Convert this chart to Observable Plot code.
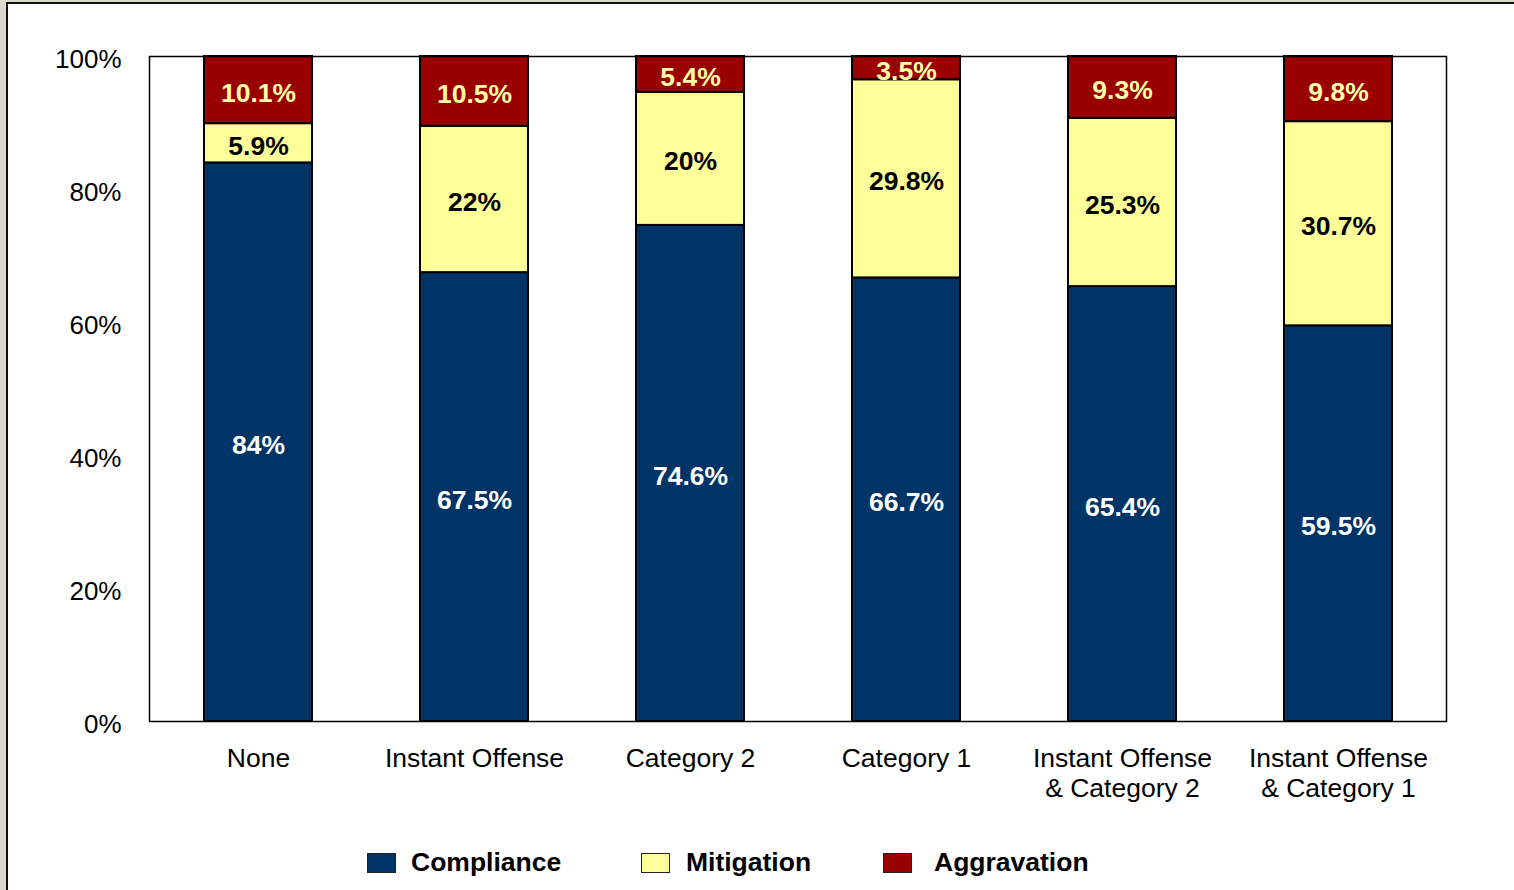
<!DOCTYPE html>
<html>
<head>
<meta charset="utf-8">
<script src="https://cdn.jsdelivr.net/npm/d3@7"></script>
<script src="https://cdn.jsdelivr.net/npm/@observablehq/plot@0.6"></script>
<style>
  html, body { margin: 0; padding: 0; width: 1514px; height: 890px; overflow: hidden; background: #ddd8ce; font-family: "Liberation Sans", Arial, sans-serif; }
  #page { position: absolute; left: 6px; top: 2px; width: 1508px; height: 888px; background: #fff; border-left: 2px solid #111; border-top: 2px solid #111; box-sizing: border-box; }
  #chart { position: absolute; left: 0; top: 0; }
  #legend { position: absolute; left: 0; top: 848px; width: 1514px; height: 30px; font: bold 26.5px "Liberation Sans", Arial, sans-serif; color: #000; }
  .sw { position: absolute; top: 5px; width: 27px; height: 18px; border: 1px solid #222; }
  .lt { position: absolute; top: 0; line-height: 28px; }
</style>
</head>
<body>
<div id="page"></div>
<div id="chart"></div>
<div id="legend"></div>
<script>
const categories = ["None", "Instant Offense", "Category 2", "Category 1", "Instant Offense\n& Category 2", "Instant Offense\n& Category 1"];
const seriesNames = ["Compliance", "Mitigation", "Aggravation"];
const compliance = [84, 67.5, 74.6, 66.7, 65.4, 59.5];
const mitigation = [5.9, 22, 20, 29.8, 25.3, 30.7];
const aggravation = [10.1, 10.5, 5.4, 3.5, 9.3, 9.8];
const yTicks = [0, 20, 40, 60, 80, 100];
const colors = ["#003366", "#FFFF99", "#990000"];
const labelColors = ["#ffffff", "#000000", "#FFFFA8"];

const seriesValues = [compliance, mitigation, aggravation];
const data = [];
seriesNames.forEach((s, si) => {
  categories.forEach((c, ci) => {
    data.push({category: c, series: s, value: seriesValues[si][ci], labelColor: labelColors[si]});
  });
});

const font = '"Liberation Sans", Arial, sans-serif';

const plot = Plot.plot({
  width: 1514,
  height: 810,
  marginLeft: 149,
  marginRight: 68,
  marginTop: 56,
  marginBottom: 89,
  style: {background: "transparent", fontFamily: font, fontSize: "26px", color: "#000"},
  x: {domain: categories, paddingInner: 0.5, paddingOuter: 0.25, label: null},
  y: {domain: [0, 100], label: null},
  color: {domain: seriesNames, range: colors},
  marks: [
    Plot.barY(data, {x: "category", y: "value", fill: "series", stroke: "#000", strokeWidth: 2, order: seriesNames}),
    Plot.frame({stroke: "#000", strokeWidth: 1.5}),
    Plot.text(data, Plot.stackY({x: "category", y: "value", z: "series", order: seriesNames,
      text: d => d.value + "%", fill: "labelColor", fontWeight: "bold", fontSize: 26.5, dy: 3})),
    Plot.axisY({ticks: yTicks, tickFormat: d => d + "%", tickSize: 0, tickPadding: 28, fontSize: 26, dy: 3, label: null}),
    Plot.axisX({tickSize: 0, tickPadding: 24, fontSize: 26.5, lineHeight: 1.13, label: null})
  ]
});
document.getElementById("chart").appendChild(plot);

const legendPos = [[367, 411], [641, 686], [883, 934]];
const legend = document.getElementById("legend");
seriesNames.forEach((s, i) => {
  const sw = document.createElement("div");
  sw.className = "sw";
  sw.style.left = legendPos[i][0] + "px";
  sw.style.background = colors[i];
  legend.appendChild(sw);
  const t = document.createElement("div");
  t.className = "lt";
  t.style.left = legendPos[i][1] + "px";
  t.textContent = s;
  legend.appendChild(t);
});
</script>
</body>
</html>
